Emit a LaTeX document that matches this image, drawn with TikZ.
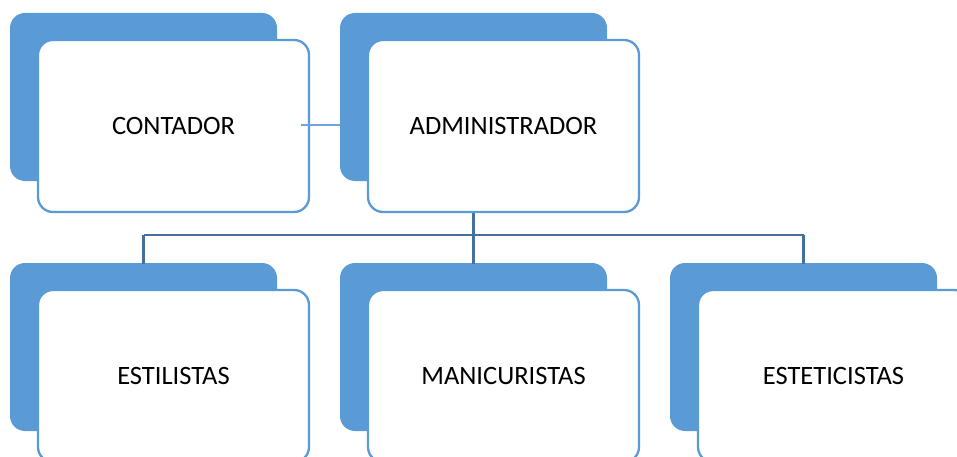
\documentclass[tikz,border=0pt]{standalone}
\usepackage{fontspec}
\setmainfont{Carlito}
\definecolor{boxblue}{HTML}{5B9BD5}
\definecolor{linkblue}{HTML}{41719C}
\definecolor{lightlink}{HTML}{6FA3DA}
\begin{document}
\begin{tikzpicture}[x=1pt,y=-1pt,
  backbox/.style={draw=none,fill=boxblue,rounded corners=15pt,minimum width=267pt,minimum height=168pt,anchor=north west,inner sep=0pt,outer sep=0pt},
  frontbox/.style={draw=boxblue,line width=2.3pt,fill=white,rounded corners=15pt,minimum width=271pt,minimum height=172pt,anchor=north west,inner sep=0pt,outer sep=0pt,font=\fontsize{26.5}{30}\selectfont},
  link/.style={draw=linkblue,line width=2.5pt},
  sidelink/.style={draw=lightlink,line width=1.8pt}]
\useasboundingbox (0,0) rectangle (957,457);
\clip (0,0) rectangle (957,457);
% back boxes
\node[backbox] (cb) at (10,13) {};
\node[backbox] (ab) at (340,13) {};
\node[backbox] (eb) at (10,263) {};
\node[backbox] (mb) at (340,263) {};
\node[backbox] (tb) at (670,263) {};
% tree connectors
\coordinate (bus) at (ab.center |- 0,235);
\draw[link] (ab.south) -- (bus);
\draw[link] (eb.north |- bus) -- (tb.north |- bus);
\draw[link] (eb.north |- bus) -- ([yshift=-1pt]eb.north);
\draw[link] (bus) -- ([yshift=-1pt]mb.north);
\draw[link] (tb.north |- bus) -- ([yshift=-1pt]tb.north);
% front boxes
\node[frontbox] (c) at (38,40) {CONTADOR};
\node[frontbox] (a) at (368,40) {ADMINISTRADOR};
\node[frontbox] (e) at (38,290) {ESTILISTAS};
\node[frontbox] (m) at (368,290) {MANICURISTAS};
\node[frontbox] (t) at (698,290) {ESTETICISTAS};
\draw[sidelink] ([xshift=-8pt]c.east |- 0,125) -- (ab.west |- 0,125);
\end{tikzpicture}
\end{document}
